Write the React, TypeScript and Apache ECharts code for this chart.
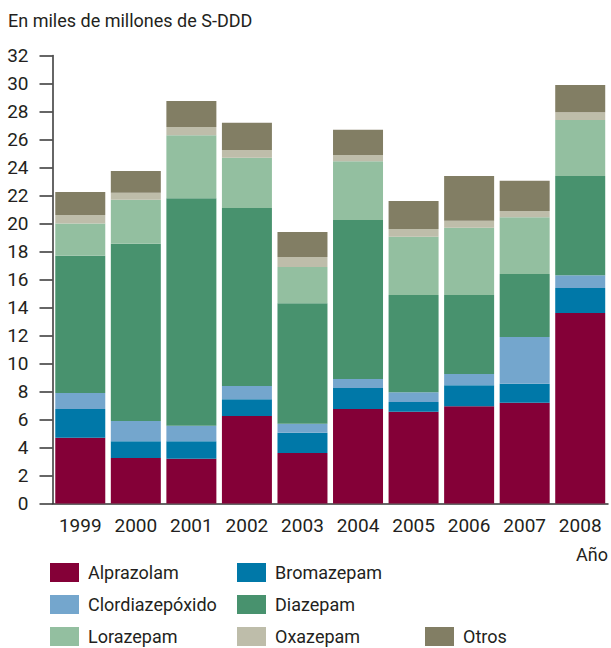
import React, { useEffect, useRef } from "react";
import * as echarts from "echarts";

const years = ["1999", "2000", "2001", "2002", "2003", "2004", "2005", "2006", "2007", "2008"];
const alprazolam = [4.7, 3.25, 3.2, 6.25, 3.6, 6.75, 6.55, 6.95, 7.2, 13.6];
const bromazepam = [2.05, 1.2, 1.25, 1.2, 1.45, 1.5, 0.7, 1.5, 1.35, 1.8];
const clordiazepoxido = [1.15, 1.45, 1.1, 0.95, 0.65, 0.65, 0.7, 0.8, 3.35, 0.9];
const diazepam = [9.8, 12.65, 16.25, 12.7, 8.6, 11.35, 6.95, 5.65, 4.5, 7.1];
const lorazepam = [2.3, 3.15, 4.5, 3.6, 2.6, 4.2, 4.15, 4.8, 4.05, 4.0];
const oxazepam = [0.6, 0.5, 0.6, 0.55, 0.7, 0.45, 0.55, 0.5, 0.45, 0.55];
const otros = [1.65, 1.55, 1.85, 1.95, 1.8, 1.8, 2.0, 3.2, 2.15, 1.95];

const seriesNames = ["Alprazolam", "Bromazepam", "Clordiazepóxido", "Diazepam", "Lorazepam", "Oxazepam", "Otros"];
const seriesData = [alprazolam, bromazepam, clordiazepoxido, diazepam, lorazepam, oxazepam, otros];
const colors = ["#840037", "#0078A8", "#74A6CD", "#48926E", "#93BFA0", "#BEBDAA", "#827E64"];

// legend grid placement (column, row)
const legendCols = [0, 1, 0, 1, 0, 1, 2];
const legendRows = [0, 0, 1, 1, 2, 2, 2];

const FONT = "Roboto, 'Liberation Sans', sans-serif";
const TXT = "#231f20";

export default function App() {
  const ref = useRef<HTMLDivElement>(null);
  useEffect(() => {
    if (!ref.current) return;
    const chart = echarts.init(ref.current, undefined, { renderer: "svg" });
    const colLeft = [50, 237, 425];
    const legends = seriesNames.map((n, i) => ({
      left: colLeft[legendCols[i]],
      top: 563 + legendRows[i] * 32,
      itemWidth: 29,
      itemHeight: 19,
      icon: "rect",
      selectedMode: false,
      padding: 0,
      itemGap: 0,
      textStyle: { fontFamily: FONT, fontSize: 18, color: TXT, padding: [0, 0, 0, 4] },
      data: [n],
    }));
    chart.setOption({
      animation: false,
      textStyle: { fontFamily: FONT },
      title: {
        text: "En miles de millones de S-DDD",
        left: 3,
        top: 6,
        textStyle: { fontFamily: FONT, fontSize: 18, fontWeight: "normal", color: TXT },
      },
      legend: legends,
      grid: { left: 52.5, right: 3, top: 55.5, bottom: 144.5, containLabel: false },
      xAxis: {
        type: "category",
        data: years,
        name: "Año",
        nameLocation: "end",
        nameGap: 0,
        nameTextStyle: {
          fontFamily: FONT,
          fontSize: 18,
          color: TXT,
          align: "right",
          verticalAlign: "top",
          padding: [42, 0, 0, 0],
        },
        axisLine: { lineStyle: { color: "#333", width: 1.5 } },
        axisTick: { length: 12, lineStyle: { color: "#333", width: 1.5 } },
        axisLabel: { fontFamily: FONT, fontSize: 19, color: TXT, margin: 12, interval: 0 },
      },
      yAxis: {
        type: "value",
        min: 0,
        max: 32,
        interval: 2,
        splitLine: { show: false },
        axisLine: { show: true, lineStyle: { color: "#333", width: 1.5 } },
        axisTick: { show: true, length: 13, lineStyle: { color: "#333", width: 1.5 } },
        axisLabel: { fontFamily: FONT, fontSize: 19, color: TXT, margin: 24 },
      },
      series: seriesNames.map((n, i) => ({
        name: n,
        type: "bar",
        stack: "total",
        barWidth: 50,
        itemStyle: { color: colors[i] },
        data: seriesData[i],
      })),
    });
    return () => chart.dispose();
  }, []);
  return (
    <div
      ref={ref}
      style={{ position: "fixed", left: 0, top: 0, width: 611, height: 648, background: "#fff" }}
    />
  );
}
